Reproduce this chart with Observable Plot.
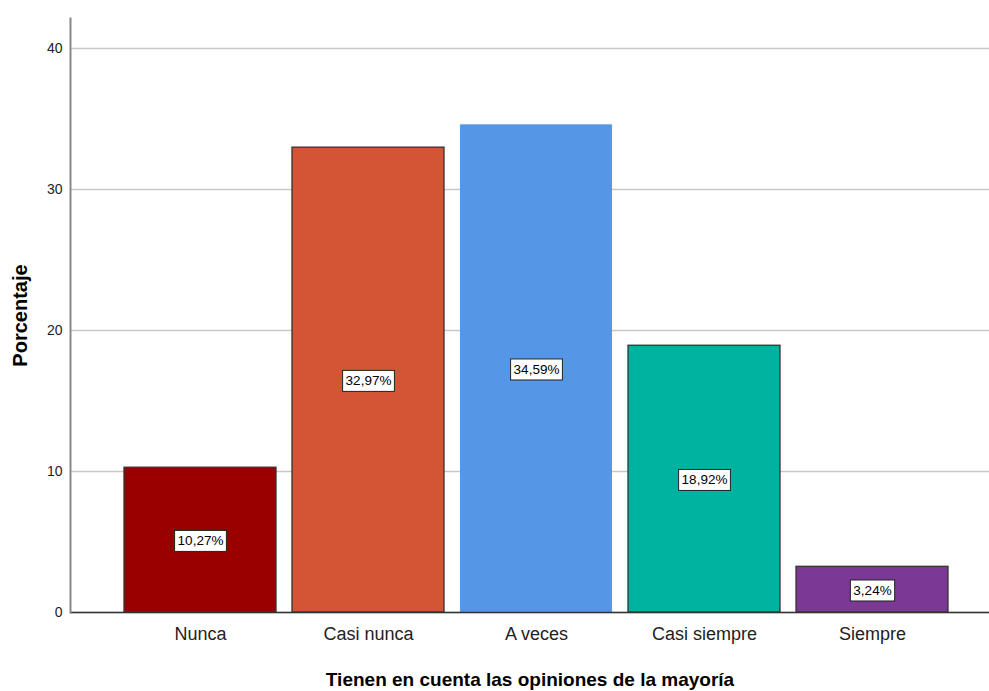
<!DOCTYPE html>
<html>
<head>
<meta charset="utf-8">
<script src="https://cdn.jsdelivr.net/npm/d3@7"></script>
<script src="https://cdn.jsdelivr.net/npm/@observablehq/plot@0.6"></script>
<style>
  html, body { margin: 0; padding: 0; background: #fff; }
  #chart svg { display: block; }
</style>
</head>
<body>
<div id="chart"></div>
<script>
const categories = ["Nunca", "Casi nunca", "A veces", "Casi siempre", "Siempre"];
const values = [10.27, 32.97, 34.59, 18.92, 3.24];
const labels = ["10,27%", "32,97%", "34,59%", "18,92%", "3,24%"];
const colors = ["#990000", "#d35535", "#5596e6", "#00b3a0", "#7b3894"];
const strokes = ["#333", "#333", "none", "#333", "#333"];
const yTicks = [0, 10, 20, 30, 40];

const data = categories.map((c, i) => ({cat: c, value: values[i], label: labels[i], color: colors[i], stroke: strokes[i]}));

const chart = Plot.plot({
  width: 989,
  height: 691,
  marginLeft: 70,
  marginRight: 0,
  marginTop: 18,
  marginBottom: 79,
  style: {fontFamily: "'Liberation Sans', Arial, sans-serif", background: "#fff"},
  x: {domain: categories, range: [115, 956.25], paddingInner: 0.0966, paddingOuter: 0.0483, align: 0.5},
  y: {domain: [0, 42.13]},
  marks: [
    Plot.gridY(yTicks, {stroke: "#c8c8c8", strokeOpacity: 1, strokeWidth: 1.5}),
    Plot.barY(data, {x: "cat", y: "value", fill: "color", stroke: "stroke", strokeWidth: 1.3}),
    Plot.ruleY([0], {stroke: "#333", strokeWidth: 1.5}),
    Plot.frame({anchor: "left", stroke: "#888", strokeWidth: 2}),
    Plot.axisY(yTicks, {tickSize: 0, tickPadding: 8, fontSize: 14, fill: "#222", label: null}),
    Plot.axisX({tickSize: 0, tickPadding: 15, fontSize: 18, fill: "#222", label: null}),
    Plot.text(data, {x: "cat", y: d => d.value / 2, dy: 1, text: "label", fontSize: 13.5, fill: "#000", className: "barlabel"}),
    Plot.text(["Tienen en cuenta las opiniones de la mayoría"], {frameAnchor: "bottom", dy: 73, text: d => d, fontSize: 19, fontWeight: "bold", fill: "#000"}),
    Plot.text(["Porcentaje"], {frameAnchor: "left", textAnchor: "middle", dx: -50, rotate: -90, text: d => d, fontSize: 20, fontWeight: "bold", fill: "#000"})
  ]
});
document.getElementById("chart").appendChild(chart);

// white boxes behind the bar value labels
const g = chart.querySelector("g.barlabel");
if (g) {
  g.querySelectorAll("text").forEach(t => {
    const b = t.getBBox();
    const r = document.createElementNS("http://www.w3.org/2000/svg", "rect");
    r.setAttribute("x", b.x - 3);
    r.setAttribute("y", b.y - 3);
    r.setAttribute("width", b.width + 6);
    r.setAttribute("height", b.height + 6);
    r.setAttribute("fill", "#fff");
    r.setAttribute("stroke", "#222");
    r.setAttribute("stroke-width", "1");
    const tr = t.getAttribute("transform");
    if (tr) r.setAttribute("transform", tr);
    g.insertBefore(r, t);
  });
}
</script>
</body>
</html>
